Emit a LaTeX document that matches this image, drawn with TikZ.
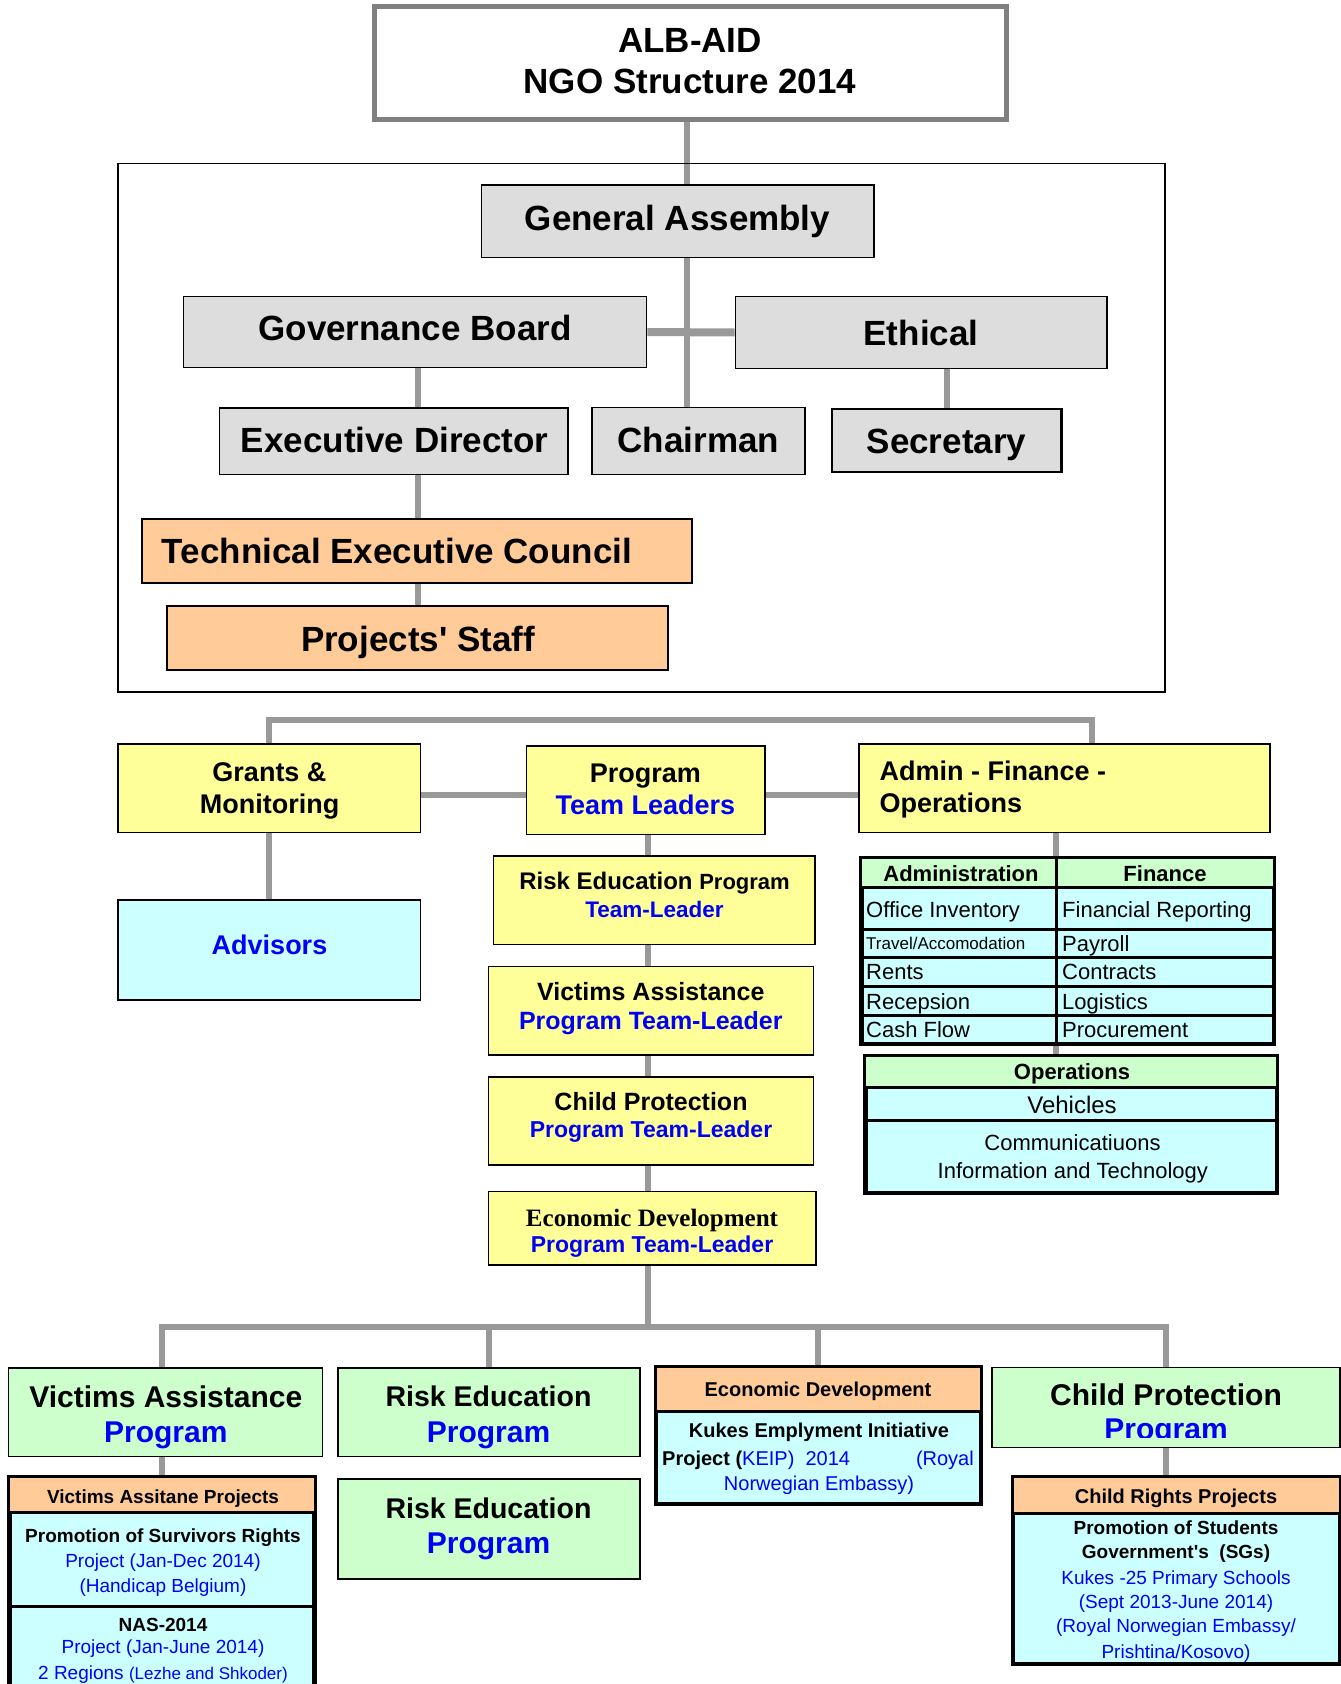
\documentclass[tikz,border=0pt]{standalone}
\usepackage{fontspec}
\setmainfont{Liberation Sans}
\newfontfamily\timesfam{Liberation Serif}
\usetikzlibrary{backgrounds}
\definecolor{gfill}{RGB}{221,221,221}
\definecolor{conngray}{RGB}{153,153,153}
\definecolor{titlegray}{RGB}{128,128,128}
\definecolor{peach}{RGB}{255,204,153}
\definecolor{lyellow}{RGB}{255,255,153}
\definecolor{lcyan}{RGB}{204,255,255}
\definecolor{lgreen}{RGB}{204,255,204}
\definecolor{tblue}{RGB}{0,0,245}
\newcommand\fsz[1]{\fontsize{#1}{#1}\selectfont}
\begin{document}
\begin{tikzpicture}[x=1pt,y=-1pt,
 titlebox/.style={draw=titlegray,line width=5pt,fill=white,inner sep=0pt},
 graybox/.style={draw=black,line width=1.6pt,fill=gfill,inner sep=0pt},
 peachbox/.style={draw=black,line width=2pt,fill=peach,inner sep=0pt},
 yelbox/.style={draw=black,line width=1.8pt,fill=lyellow,inner sep=0pt},
 cyanbox/.style={draw=black,line width=1.8pt,fill=lcyan,inner sep=0pt},
 grnbox/.style={draw=black,line width=1.8pt,fill=lgreen,inner sep=0pt},
 heavybox/.style={draw=black,line width=3pt,fill=lcyan,inner sep=0pt},
 conn/.style={draw=conngray,line width=6pt},
 tabline/.style={draw=black,line width=3pt},
 lbl/.style={inner sep=0pt,anchor=base}]
\useasboundingbox (0,0) rectangle (1341,1684);
\clip (0,0) rectangle (1341,1684);

% ---------- boxes ----------
\node[titlebox,minimum width=632pt,minimum height=113pt] (title) at (690,62.5) {};
\node[draw=black,line width=1.5pt,inner sep=0pt,minimum width=1047pt,minimum height=528.5pt] (frame) at (641.5,427.75) {};
\node[graybox,minimum width=392.5pt,minimum height=72.5pt] (ga) at (677.75,221.25) {};
\node[graybox,minimum width=463pt,minimum height=71pt] (gb) at (415,332) {};
\node[graybox,minimum width=371.5pt,minimum height=72pt] (eth) at (921.25,332.5) {};
\node[graybox,minimum width=348.5pt,minimum height=66.5pt] (ed) at (393.75,441.25) {};
\node[graybox,minimum width=213pt,minimum height=67pt] (chair) at (698.5,441) {};
\node[graybox,line width=2.4pt,minimum width=229.5pt,minimum height=63pt] (sec) at (946.75,440.5) {};
\node[peachbox,minimum width=550pt,minimum height=63.5pt] (tec) at (417,550.75) {};
\node[peachbox,minimum width=501pt,minimum height=63.5pt] (ps) at (417.5,637.75) {};

\node[yelbox,minimum width=302.5pt,minimum height=88.5pt] (grants) at (269.25,788.25) {};
\node[yelbox,minimum width=238.5pt,minimum height=88.5pt] (prog) at (645.75,790.25) {};
\node[yelbox,minimum width=411pt,minimum height=88.5pt] (admin) at (1064.5,788.25) {};
\node[cyanbox,minimum width=302.5pt,minimum height=100pt] (adv) at (269.25,950) {};
\node[yelbox,minimum width=321.5pt,minimum height=88.5pt] (retl) at (654.25,900.25) {};
\node[yelbox,minimum width=325pt,minimum height=88.5pt] (vatl) at (651,1010.75) {};
\node[yelbox,minimum width=325pt,minimum height=88pt] (cptl) at (651,1121) {};
\node[yelbox,minimum width=327.5pt,minimum height=73.5pt] (edtl) at (652.25,1228.25) {};

% admin / finance table
\node[heavybox,minimum width=411pt,minimum height=184pt] (aftab) at (1067.5,951) {};
\fill[lgreen] (862,859) rectangle (1273,887);
\draw[tabline] (862,887) -- (1273,887);
\draw[tabline] (862,929) -- (1273,929);
\draw[tabline] (862,957) -- (1273,957);
\draw[tabline] (862,986) -- (1273,986);
\draw[tabline] (862,1015) -- (1273,1015);
\draw[tabline] (1056,859) -- (1056,1043);
\draw[tabline] (aftab.north west) rectangle (aftab.south east);
% operations table
\node[heavybox,minimum width=410pt,minimum height=135pt] (optab) at (1071,1124.5) {};
\fill[lgreen] (866,1057) rectangle (1276,1087);
\draw[tabline] (866,1087) -- (1276,1087);
\draw[tabline] (866,1120) -- (1276,1120);
\draw[tabline] (optab.north west) rectangle (optab.south east);

% bottom row
\node[grnbox,minimum width=314pt,minimum height=88.5pt] (vap) at (165.5,1412.25) {};
\node[grnbox,minimum width=302pt,minimum height=88.5pt] (re1) at (489,1412.25) {};
\node[grnbox,minimum width=302pt,minimum height=100pt] (re2) at (489,1529) {};
\node[heavybox,minimum width=323.5pt,minimum height=135pt] (econ) at (818.25,1435.5) {};
\fill[peach] (656.5,1368) rectangle (980,1411);
\draw[tabline] (656.5,1411) -- (980,1411);
\draw[tabline] (econ.north west) rectangle (econ.south east);
\node[grnbox,minimum width=348pt,minimum height=80pt] (cpp) at (1166,1407.5) {};
\node[heavybox,minimum width=325.5pt,minimum height=185pt] (crp) at (1176.25,1570.5) {};
\fill[peach] (1013.5,1478) rectangle (1339,1513);
\draw[tabline] (1013.5,1513) -- (1339,1513);
\draw[tabline] (crp.north west) rectangle (crp.south east);
\node[heavybox,minimum width=303.5pt,minimum height=242pt] (vaproj) at (161.75,1599) {};
\fill[peach] (10,1478) rectangle (313.5,1512);
\draw[tabline] (10,1512) -- (313.5,1512);
\draw[tabline] (10,1606) -- (313.5,1606);
\draw[tabline] (vaproj.north west) rectangle (vaproj.south east);

% ---------- connectors ----------
\coordinate (spine) at (687,0);
\coordinate (colA) at (417.5,0);
\coordinate (tr) at (1092,720);
\coordinate (hy) at (0,794.5);
\coordinate (sp2) at (647.5,0);
\coordinate (tabcol) at (1056,0);
\coordinate (bh) at (0,1327);
\begin{pgfonlayer}{background}
\fill[white] (0,0) rectangle (1341,1684);
\draw[conn] (spine |- title.south) -- (spine |- ga.north);
\draw[conn] (spine |- ga.south) -- (spine |- chair.north);
\draw[draw=conngray,line width=8pt] (gb.east) -- (eth.west);
\draw[conn] (colA |- gb.south) -- (colA |- ed.north);
\draw[conn] (colA |- ed.south) -- (colA |- tec.north);
\draw[conn] (colA |- tec.south) -- (colA |- ps.north);
\draw[conn] (sec.north |- eth.south) -- (sec.north);
\draw[conn] (grants.north) -- (grants.north |- tr) -- (tr) -- (tr |- admin.north);
\draw[conn] (grants.east |- hy) -- (prog.west |- hy);
\draw[conn] (prog.east |- hy) -- (admin.west |- hy);
\draw[conn] (grants.south) -- (adv.north);
\draw[conn] (sp2 |- prog.south) -- (sp2 |- retl.north);
\draw[conn] (sp2 |- retl.south) -- (sp2 |- vatl.north);
\draw[conn] (sp2 |- vatl.south) -- (sp2 |- cptl.north);
\draw[conn] (sp2 |- cptl.south) -- (sp2 |- edtl.north);
\draw[conn] (sp2 |- edtl.south) -- (sp2 |- bh);
\draw[conn] (tabcol |- admin.south) -- (tabcol |- aftab.north);
\draw[conn] (tabcol |- aftab.south) -- (tabcol |- optab.north);
\draw[conn] (vaproj.north |- vap.north) -- (vaproj.north |- bh) -- (cpp.north |- bh) -- (cpp.north);
\draw[conn] (re1.north) -- (re1.north |- bh);
\draw[conn] (econ.north) -- (econ.north |- bh);
\draw[conn] (vaproj.north |- vap.south) -- (vaproj.north);
\draw[conn] (cpp.south) -- (cpp.south |- crp.north);
\end{pgfonlayer}

% ---------- texts ----------
\node[lbl,font={\fsz{35}\bfseries}] (t1) at (690,52.6) {ALB-AID};
\node[lbl,font={\fsz{35}\bfseries}] (t2) at (690,93.6) {NGO Structure 2014};
\node[lbl,font={\fsz{35}\bfseries}] (t3) at (677.5,230.6) {General Assembly};
\node[lbl,font={\fsz{35}\bfseries}] (t4) at (415,340.6) {Governance Board};
\node[lbl,font={\fsz{35}\bfseries}] (t5) at (921,345.2) {Ethical};
\node[lbl,font={\fsz{35}\bfseries}] (t6) at (394.6,452.3) {Executive Director};
\node[lbl,font={\fsz{35}\bfseries}] (t7) at (698.4,452.6) {Chairman};
\node[lbl,font={\fsz{35}\bfseries}] (t8) at (946.5,453.2) {Secretary};
\node[lbl,font={\fsz{35}\bfseries}] (t9) at (397,563.6) {Technical Executive Council};
\node[lbl,font={\fsz{35}\bfseries}] (t10) at (418,651) {Projects\textquotesingle{} Staff};

\node[lbl,font={\fsz{27}\bfseries}] (t11) at (269.5,781.4) {Grants \&};
\node[lbl,font={\fsz{27}\bfseries}] (t12) at (269.5,813) {Monitoring};
\node[lbl,font={\fsz{27}\bfseries}] (t13) at (645.3,782.4) {Program};
\node[lbl,font={\fsz{27}\bfseries},text=tblue] (t14) at (645.3,814) {Team Leaders};
\node[lbl,anchor=base west,font={\fsz{27}\bfseries}] (t15) at (879.4,780.7) {Admin - Finance -};
\node[lbl,anchor=base west,font={\fsz{27}\bfseries}] (t16) at (879.4,812.7) {Operations};
\node[lbl,font={\fsz{27}\bfseries},text=tblue] (t17) at (269.5,954) {Advisors};

\node[lbl,font=\bfseries] (t18) at (654.5,889.5) {\fsz{24}Risk Education \fsz{22}Program};
\node[lbl,font={\fsz{22.5}\bfseries},text=tblue] (t19) at (654.5,917.2) {Team-Leader};
\node[lbl,font={\fsz{25}\bfseries}] (t20) at (650.8,1000.7) {Victims Assistance};
\node[lbl,font={\fsz{25}\bfseries},text=tblue] (t21) at (650.8,1029) {Program Team-Leader};
\node[lbl,font={\fsz{25}\bfseries}] (t22) at (651,1110.7) {Child Protection};
\node[lbl,font={\fsz{23}\bfseries},text=tblue] (t23) at (651,1137.6) {Program Team-Leader};
\node[lbl,font={\timesfam\fsz{25}\bfseries}] (t24) at (652,1226) {Economic Development};
\node[lbl,font={\fsz{23}\bfseries},text=tblue] (t25) at (652,1252.6) {Program Team-Leader};

% admin/finance table text
\node[lbl,font={\fsz{22}\bfseries}] (a0) at (961,881.2) {Administration};
\node[lbl,font={\fsz{22}\bfseries}] (f0) at (1165,881.2) {Finance};
\node[lbl,anchor=base west,font=\fsz{22}] (a1) at (866,917) {Office Inventory};
\node[lbl,anchor=base west,font=\fsz{17}] (a2) at (866,949.4) {Travel/Accomodation};
\node[lbl,anchor=base west,font=\fsz{22}] (a3) at (866,979.5) {Rents};
\node[lbl,anchor=base west,font=\fsz{22}] (a4) at (866,1009) {Recepsion};
\node[lbl,anchor=base west,font=\fsz{22}] (a5) at (866,1037.5) {Cash Flow};
\node[lbl,anchor=base west,font=\fsz{22}] (f1) at (1062,917) {Financial Reporting};
\node[lbl,anchor=base west,font=\fsz{22}] (f2) at (1062,951.5) {Payroll};
\node[lbl,anchor=base west,font=\fsz{22}] (f3) at (1062,979.5) {Contracts};
\node[lbl,anchor=base west,font=\fsz{22}] (f4) at (1062,1009) {Logistics};
\node[lbl,anchor=base west,font=\fsz{22}] (f5) at (1062,1037.5) {Procurement};
\node[lbl,font={\fsz{22}\bfseries}] (o0) at (1072,1079.6) {Operations};
\node[lbl,font=\fsz{24}] (o1) at (1072,1113.6) {Vehicles};
\node[lbl,font=\fsz{22}] (o2) at (1072.5,1150.2) {Communicatiuons};
\node[lbl,font=\fsz{22}] (o3) at (1072.8,1178) {Information and Technology};

% bottom row text
\node[lbl,font={\fsz{30}\bfseries}] (b1) at (165.8,1407.5) {Victims Assistance};
\node[lbl,font={\fsz{30}\bfseries},text=tblue] (b2) at (165.8,1442.5) {Program};
\node[lbl,font={\fsz{28.5}\bfseries}] (b3) at (488.5,1406.8) {Risk Education};
\node[lbl,font={\fsz{30}\bfseries},text=tblue] (b4) at (488.5,1442.5) {Program};
\node[lbl,font={\fsz{28.5}\bfseries}] (b5) at (488.5,1518.2) {Risk Education};
\node[lbl,font={\fsz{30}\bfseries},text=tblue] (b6) at (488.5,1553.8) {Program};

\node[lbl,font={\fsz{20}\bfseries}] (e0) at (818,1396.2) {Economic Development};
\node[lbl,font={\fsz{20}\bfseries}] (e1) at (819,1437.2) {Kukes Emplyment Initiative};
\node[lbl,anchor=base west,font=\fsz{20}] (e2) at (662,1465.2) {\bfseries Project (\mdseries\color{tblue}KEIP)\ \ 2014};
\node[lbl,anchor=base east,font=\fsz{20},text=tblue] (e3) at (974,1465.2) {(Royal};
\node[lbl,font=\fsz{20},text=tblue] (e4) at (819,1490.2) {Norwegian Embassy)};

\node[lbl,font={\fsz{30}\bfseries}] (c1) at (1166,1405.8) {Child Protection};
\begin{scope}
\clip (992,1367.5) rectangle (1340,1437);
\node[lbl,font={\fsz{30}\bfseries},text=tblue] (c2) at (1166,1439) {Program};
\end{scope}

\node[lbl,font={\fsz{20}\bfseries}] (r0) at (1176,1503.9) {Child Rights Projects};
\node[lbl,font={\fsz{19}\bfseries}] (r1) at (1176,1534.8) {Promotion of Students};
\node[lbl,font={\fsz{19}\bfseries}] (r2) at (1176,1558.8) {Government\textquotesingle{}s\ \ (SGs)};
\node[lbl,font=\fsz{19},text=tblue] (r3) at (1176,1584.8) {Kukes -25 Primary Schools};
\node[lbl,font=\fsz{19},text=tblue] (r4) at (1176,1608.8) {(Sept 2013-June 2014)};
\node[lbl,font=\fsz{19},text=tblue] (r5) at (1176,1632.8) {(Royal Norwegian Embassy/};
\node[lbl,font=\fsz{19},text=tblue] (r6) at (1176,1658.8) {Prishtina/Kosovo)};

\node[lbl,font={\fsz{19}\bfseries}] (v0) at (163,1503.5) {Victims Assitane Projects};
\node[lbl,font={\fsz{19}\bfseries}] (v1) at (163,1542.5) {Promotion of Survivors Rights};
\node[lbl,font=\fsz{19},text=tblue] (v2) at (163,1567.5) {Project (Jan-Dec 2014)};
\node[lbl,font=\fsz{19},text=tblue] (v3) at (163,1592.5) {(Handicap Belgium)};
\node[lbl,font={\fsz{19}\bfseries}] (v4) at (163,1631) {NAS-2014};
\node[lbl,font=\fsz{19},text=tblue] (v5) at (163,1653.5) {Project (Jan-June 2014)};
\node[lbl,font=\fsz{19},text=tblue] (v6) at (163,1679.5) {2 Regions {\fsz{17}(Lezhe and Shkoder)}};
\end{tikzpicture}
\end{document}
